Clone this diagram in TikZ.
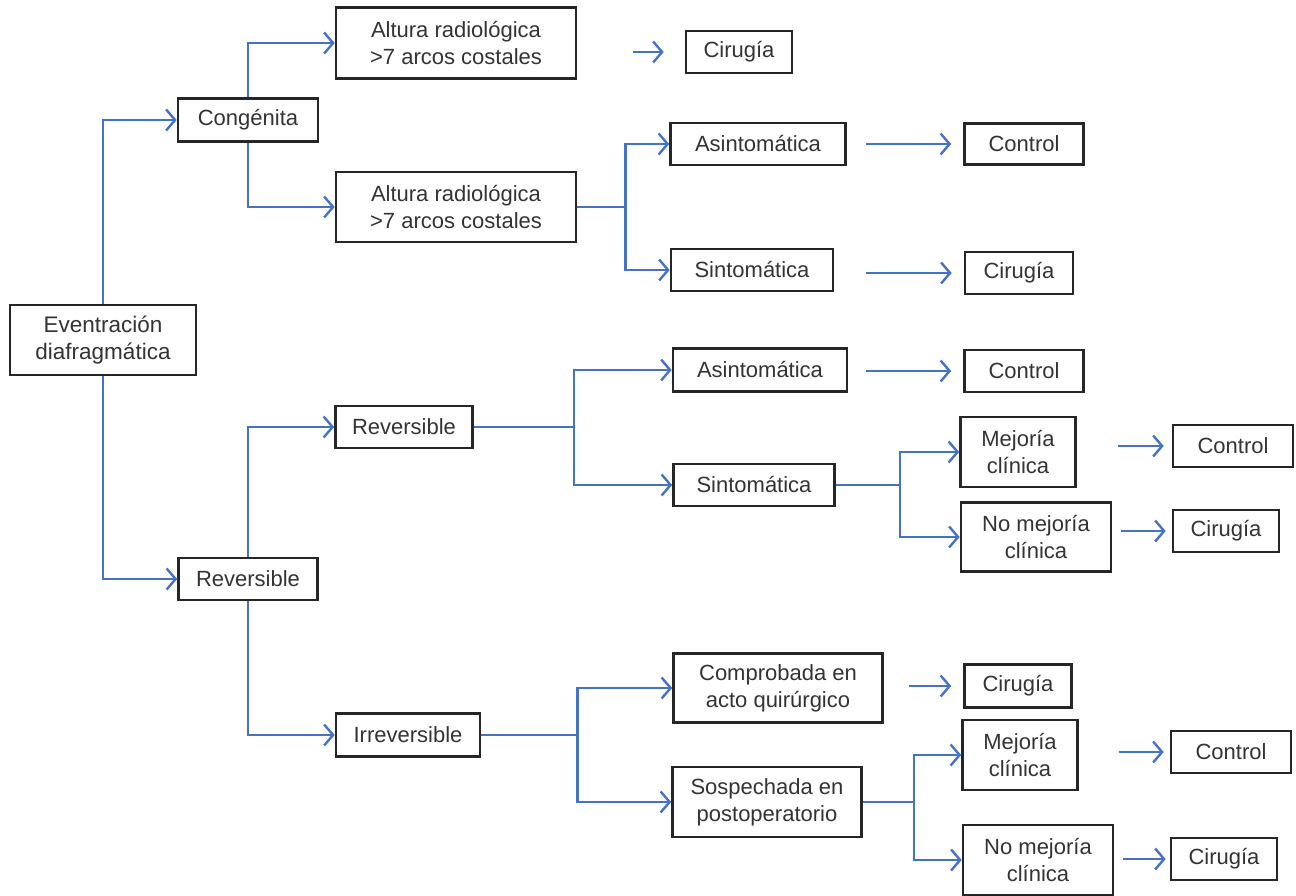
\documentclass[tikz,border=0pt]{standalone}
\usepackage{fontspec}
\setmainfont{Liberation Sans}
\usepackage{xcolor}
\usetikzlibrary{arrows.meta}
\usetikzlibrary{positioning}
\definecolor{linea}{RGB}{68,114,196}
\tikzset{>={Straight Barb[length=9pt,width=21pt,line width=2.4pt]}}

\begin{document}
\begin{tikzpicture}[x=1pt, y=-1pt,
            caja/.style={draw=black!85, line width=2.6pt, align=center, inner sep=0pt, text=black!80, font=\fontsize{22}{27}\selectfont},
            flecha/.style={->, draw=linea, line width=2.6pt},
            rama/.style={draw=linea, line width=2.6pt}
        ]
            \useasboundingbox (0,0) rectangle (1296,896);
            % first levels
            \node[caja, minimum width=186pt, minimum height=70pt, font=\fontsize{22.5}{27}\selectfont] (event) at (103,340) {Eventración\\diafragmática};
            \node[caja, minimum width=140pt, minimum height=43pt] (cong) at (248,120) {Congénita};
            \node[caja, minimum width=139pt, minimum height=42pt] (revA) at (248,579) {Reversible};
            % congenita
            \node[caja, minimum width=240pt, minimum height=71pt] (altA) at (456,43) {Altura radiológica\\>7 arcos costales};
            \node[caja, minimum width=106pt, minimum height=42pt] (cirA) at (739,52) {Cirugía};
            \node[caja, minimum width=240pt, minimum height=70pt] (altB) at (456,207) {Altura radiológica\\>7 arcos costales};
            \node[caja, minimum width=175pt, minimum height=42pt] (asA) at (758,144) {Asintomática};
            \node[caja, minimum width=119pt, minimum height=41pt] (conA) at (1024,144) {Control};
            \node[caja, minimum width=162pt, minimum height=42pt] (siA) at (752,270) {Sintomática};
            \node[caja, minimum width=108pt, minimum height=42pt] (cirB) at (1019,273) {Cirugía};
            % reversible
            \node[caja, minimum width=137pt, minimum height=42pt] (revB) at (404,427) {Reversible};
            \node[caja, minimum width=174pt, minimum height=43pt] (asB) at (760,370) {Asintomática};
            \node[caja, minimum width=119pt, minimum height=42pt] (conB) at (1024,371) {Control};
            \node[caja, minimum width=161pt, minimum height=42pt] (siB) at (754,485) {Sintomática};
            \node[caja, minimum width=115pt, minimum height=70pt] (mejA) at (1018,452) {Mejoría\\clínica};
            \node[caja, minimum width=120pt, minimum height=42pt] (conC) at (1233,446) {Control};
            \node[caja, minimum width=150pt, minimum height=69pt] (nomA) at (1036,537) {No mejoría\\clínica};
            \node[caja, minimum width=106pt, minimum height=42pt] (cirC) at (1226,531) {Cirugía};
            % irreversible
            \node[caja, minimum width=144pt, minimum height=43pt] (irr) at (408,735) {Irreversible};
            \node[caja, minimum width=209pt, minimum height=69pt] (comp) at (778,688) {Comprobada en\\acto quirúrgico};
            \node[caja, minimum width=107pt, minimum height=43pt] (cirD) at (1018,686) {Cirugía};
            \node[caja, minimum width=189pt, minimum height=70pt] (sos) at (767,802) {Sospechada en\\postoperatorio};
            \node[caja, minimum width=115pt, minimum height=70pt] (mejB) at (1020,755) {Mejoría\\clínica};
            \node[caja, minimum width=120pt, minimum height=42pt] (conD) at (1231,752) {Control};
            \node[caja, minimum width=150pt, minimum height=70pt] (nomB) at (1038,860) {No mejoría\\clínica};
            \node[caja, minimum width=106pt, minimum height=42pt] (cirE) at (1224,859) {Cirugía};
            % elbow arrows
            \draw[flecha] (event.north) |- (cong.west);
            \draw[flecha] (event.south) |- (revA.west);
            \draw[flecha] (cong.north) |- (altA.west);
            \draw[flecha] (cong.south) |- (altB.west);
            \draw[flecha] (revA.north) |- (revB.west);
            \draw[flecha] (revA.south) |- (irr.west);
            % forks
            \draw[rama] (altB.east) -- ++(48,0) coordinate (bB);
            \draw[flecha] (bB) |- (asA.west);
            \draw[flecha] (bB) |- (siA.west);
            \draw[rama] (revB.east) -- ++(100,0) coordinate (bR);
            \draw[flecha] (bR) |- (asB.west);
            \draw[flecha] (bR) |- (siB.west);
            \draw[rama] (siB.east) -- ++(64,0) coordinate (bS);
            \draw[flecha] (bS) |- (mejA.west);
            \draw[flecha] (bS) |- (nomA.west);
            \draw[rama] (irr.east) -- ++(96,0) coordinate (bI);
            \draw[flecha] (bI) |- (comp.west);
            \draw[flecha] (bI) |- (sos.west);
            \draw[rama] (sos.east) -- ++(51,0) coordinate (bP);
            \draw[flecha] (bP) |- (mejB.west);
            \draw[flecha] (bP) |- (nomB.west);
            % loose arrows
            \draw[flecha, shorten <=56pt, shorten >=21pt] (altA.east |- cirA.west) -- (cirA.west);
            \draw[flecha, shorten <=19pt, shorten >=12pt] (asA.east |- conA.west) -- (conA.west);
            \draw[flecha, shorten <=32pt, shorten >=12pt] (siA.east |- cirB.west) -- (cirB.west);
            \draw[flecha, shorten <=18pt, shorten >=12pt] (asB.east |- conB.west) -- (conB.west);
            \draw[flecha, shorten <=41pt, shorten >=8pt] (mejA.east |- conC.west) -- (conC.west);
            \draw[flecha, shorten <=9pt, shorten >=6pt] (nomA.east |- cirC.west) -- (cirC.west);
            \draw[flecha, shorten <=25pt, shorten >=12pt] (comp.east |- cirD.west) -- (cirD.west);
            \draw[flecha, shorten <=40pt, shorten >=6pt] (mejB.east |- conD.west) -- (conD.west);
            \draw[flecha, shorten <=9pt, shorten >=4pt] (nomB.east |- cirE.west) -- (cirE.west);
        \end{tikzpicture}
\end{document}
